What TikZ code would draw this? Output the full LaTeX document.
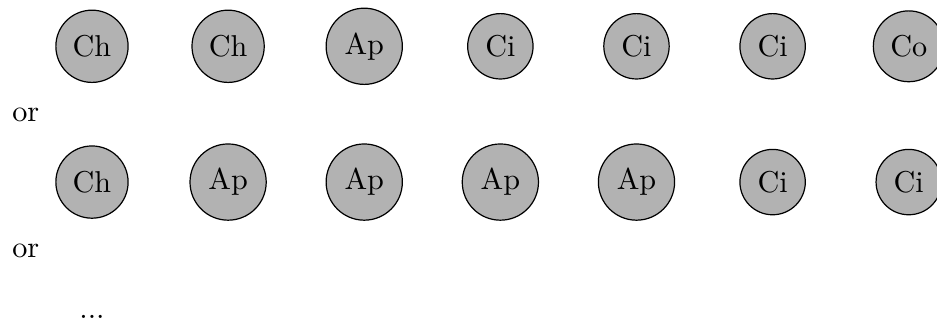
\documentclass[tikz,border=0pt]{standalone}
\usepackage{tikz}
\usetikzlibrary{positioning}
\usepackage{amsmath}

\tikzset{ball/.style={circle, draw, fill=gray!60}}

\begin{document}
\begin{tikzpicture}
\useasboundingbox (0,0) rectangle (10.91,-3.75);
\clip (0,0) rectangle (10.91,-3.75);
\node[ball] (a1) at (1.071,-0.539) {Ch};
\node[ball] (a2) at (2.656,-0.539) {Ch};
\node[ball] (a3) at (4.241,-0.539) {Ap};
\node[ball] (a4) at (5.826,-0.539) {Ci};
\node[ball] (a5) at (7.411,-0.539) {Ci};
\node[ball] (a6) at (8.996,-0.539) {Ci};
\node[ball] (a7) at (10.581,-0.539) {Co};
\node[anchor=base west] (or1) at (0.02,-1.42) {or};
\node[ball] (b1) at (1.071,-2.12) {Ch};
\node[ball] (b2) at (2.656,-2.12) {Ap};
\node[ball] (b3) at (4.241,-2.12) {Ap};
\node[ball] (b4) at (5.826,-2.12) {Ap};
\node[ball] (b5) at (7.411,-2.12) {Ap};
\node[ball] (b6) at (8.996,-2.12) {Ci};
\node[ball] (b7) at (10.581,-2.12) {Ci};
\node[anchor=base west] (or2) at (0.02,-3.0) {or};
\node[anchor=base] (etc) at (1.071,-3.714) {...};
\end{tikzpicture}
\end{document}
